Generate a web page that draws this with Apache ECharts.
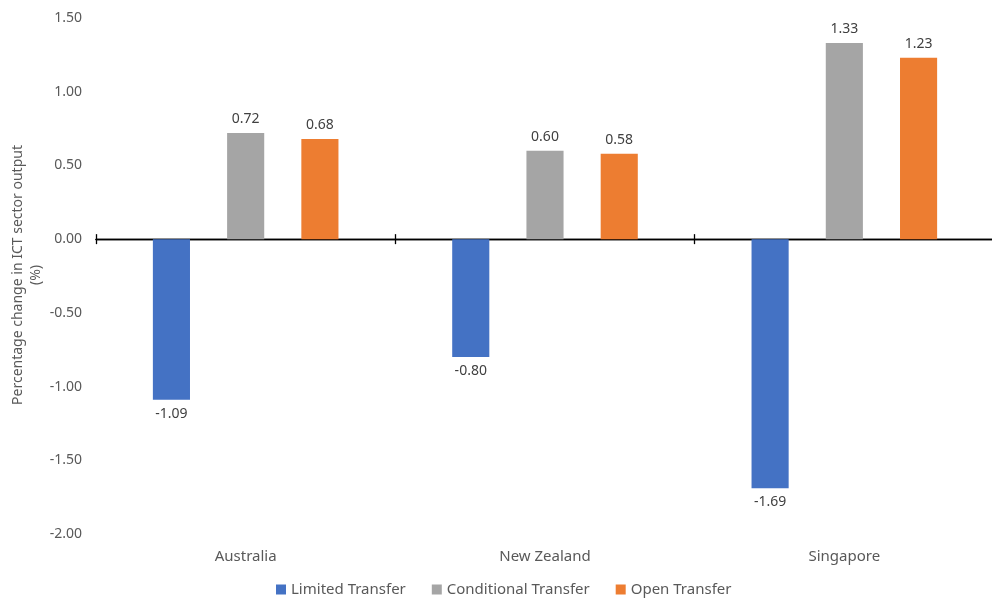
<!DOCTYPE html>
<html>
<head>
<meta charset="utf-8">
<script src="https://cdn.jsdelivr.net/npm/echarts@6/dist/echarts.min.js"></script>
<style>
  html, body { margin: 0; padding: 0; background: #fff; }
  #chart { width: 992px; height: 603px; }
</style>
</head>
<body>
<div id="chart"></div>
<script>
// Change in ICT sector output by data transfer scenario
const countries = ['Australia', 'New Zealand', 'Singapore'];
const limitedTransfer = [-1.09, -0.80, -1.69];
const conditionalTransfer = [0.72, 0.60, 1.33];
const openTransfer = [0.68, 0.58, 1.23];
const seriesNames = ['Limited Transfer', 'Conditional Transfer', 'Open Transfer'];
const colors = ['#4472C4', '#A5A5A5', '#ED7D31'];

const FONT = 'Noto Sans';
const textColor = '#595959';

const chart = echarts.init(document.getElementById('chart'), null, { renderer: 'canvas' });

function barSeries(name, data, color) {
  return {
    name: name,
    type: 'bar',
    xAxisIndex: 0,
    data: data,
    barGap: '100%',
    barCategoryGap: '38%',
    itemStyle: { color: color },
    label: {
      show: true,
      position: 'outside',
      distance: 7,
      formatter: p => p.value.toFixed(2),
      color: '#404040',
      fontFamily: FONT,
      fontSize: 14
    }
  };
}

const tickStyle = { color: '#000', width: 1.3 };

chart.setOption({
  animation: false,
  color: colors,
  textStyle: { fontFamily: FONT },
  grid: { left: 96, top: 18, width: 898, bottom: 69, containLabel: false, outerBoundsMode: 'none' },
  legend: {
    bottom: 1,
    left: 271,
    itemWidth: 10,
    itemHeight: 10,
    itemGap: 26,
    icon: 'rect',
    textStyle: { color: textColor, fontFamily: FONT, fontSize: 15 },
    data: seriesNames
  },
  xAxis: [
    {
      // category labels along the bottom edge
      type: 'category',
      data: countries,
      position: 'bottom',
      axisLine: { show: false, onZero: false },
      axisTick: { show: false },
      axisLabel: { color: textColor, fontFamily: FONT, fontSize: 15, margin: 15 }
    },
    {
      // baseline at zero, tick marks below
      type: 'category',
      data: countries,
      position: 'bottom',
      axisLine: { show: true, onZero: true, onZeroAxisIndex: 0, lineStyle: tickStyle },
      axisTick: { show: true, length: 5, lineStyle: tickStyle },
      axisLabel: { show: false }
    },
    {
      // tick marks above the zero line
      type: 'category',
      data: countries,
      position: 'bottom',
      axisLine: { show: true, onZero: true, onZeroAxisIndex: 0, lineStyle: tickStyle },
      axisTick: { show: true, inside: true, length: 5, lineStyle: tickStyle },
      axisLabel: { show: false }
    }
  ],
  yAxis: {
    type: 'value',
    min: -2,
    max: 1.5,
    interval: 0.5,
    axisLine: { show: false },
    axisTick: { show: false },
    splitLine: { show: false },
    axisLabel: {
      color: textColor,
      fontFamily: FONT,
      fontSize: 14,
      margin: 14,
      formatter: v => v.toFixed(2)
    }
  },
  graphic: [
    {
      type: 'text',
      x: 9,
      y: 275,
      rotation: Math.PI / 2,
      style: {
        text: 'Percentage change in ICT sector output\n(%)',
        fill: textColor,
        font: '14px "' + FONT + '"',
        align: 'center',
        verticalAlign: 'top',
        lineHeight: 18
      }
    }
  ],
  series: [
    barSeries(seriesNames[0], limitedTransfer, colors[0]),
    barSeries(seriesNames[1], conditionalTransfer, colors[1]),
    barSeries(seriesNames[2], openTransfer, colors[2])
  ]
});
</script>
</body>
</html>
